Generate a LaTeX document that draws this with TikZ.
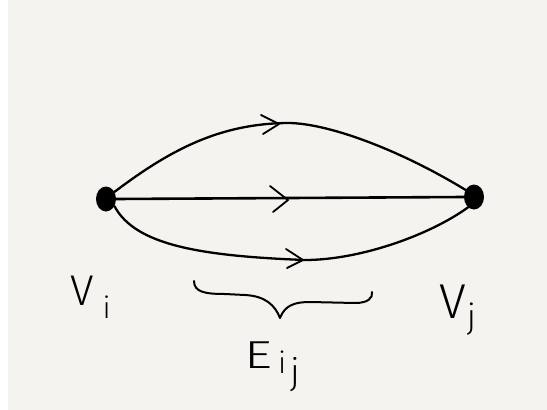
\documentclass[tikz,border=0pt]{standalone}
\usepackage{fontspec}
\usetikzlibrary{shapes.geometric}
\newfontfamily\hand{Fira Sans Light}
\newcommand\fsz[1]{\fontsize{#1}{#1}\selectfont}
\definecolor{paper}{RGB}{244,243,239}
\begin{document}
\begin{tikzpicture}[x=1pt,y=-1pt,line cap=round,line join=round,
  vertex/.style={shape=ellipse,fill=black,draw=none,inner sep=0pt,minimum width=20pt,minimum height=25pt},
  edge/.style={line width=2.3pt},
  chev/.style={line width=1.8pt},
  brace/.style={line width=2pt},
  lab/.style={inner sep=0pt,anchor=base west,font=\hand}]
\fill[paper] (0,0) rectangle (547,410);
\fill[white] (0,0) rectangle (8,410);
\useasboundingbox (0,0) rectangle (547,410);

\node[vertex] (vi) at (106,199) {};
\node[vertex] (vj) at (474,197) {};

% straight edge
\draw[edge,line width=2.6pt] (vi.east) -- (vj.west);
% top edge
\coordinate (tm) at (290,123);
\draw[edge] (vi.40) .. controls (170,150) and (220,123) .. (tm)
  .. controls (330,124) and (400,150) .. (vj.140);
% bottom edge
\coordinate (bm) at (305,260);
\draw[edge] (vi.-40) .. controls (135,245) and (200,256) .. (bm)
  .. controls (360,260) and (430,235) .. (vj.-120);

% arrow chevrons
\coordinate (at) at (279,124);
\coordinate (am) at (288,200);
\coordinate (ab) at (303,260);
\draw[chev] ([shift={(-18,-9)}]at) -- (at) -- ([shift={(-16,10)}]at);
\draw[chev] ([shift={(-18,-14)}]am) -- (am) -- ([shift={(-15,12)}]am);
\draw[chev] ([shift={(-17,-11)}]ab) -- (ab) -- ([shift={(-16,8)}]ab);

% brace
\draw[brace] (194,281) .. controls (194,292) and (205,294) .. (225,294) -- (245,295)
  .. controls (265,296) and (275,305) .. (280,318)
  .. controls (285,305) and (295,302) .. (310,302) -- (355,303)
  .. controls (368,303) and (373,298) .. (372,292);

% labels
\node[lab] (lvi) at (70,305) {\fsz{43}V\kern9pt\raisebox{-13pt}{\fsz{30}i}};
\node[lab] (lvj) at (439,318) {\fsz{49}V\kern1pt\raisebox{-10pt}{\fsz{34}j}};
\node[lab] (le) at (244,368) {\fsz{39}\scalebox{1.4}[1]{E}\kern6pt\raisebox{-5pt}{\fsz{30}i}\kern4pt\raisebox{-16pt}{\fsz{36}j}};
\end{tikzpicture}
\end{document}
